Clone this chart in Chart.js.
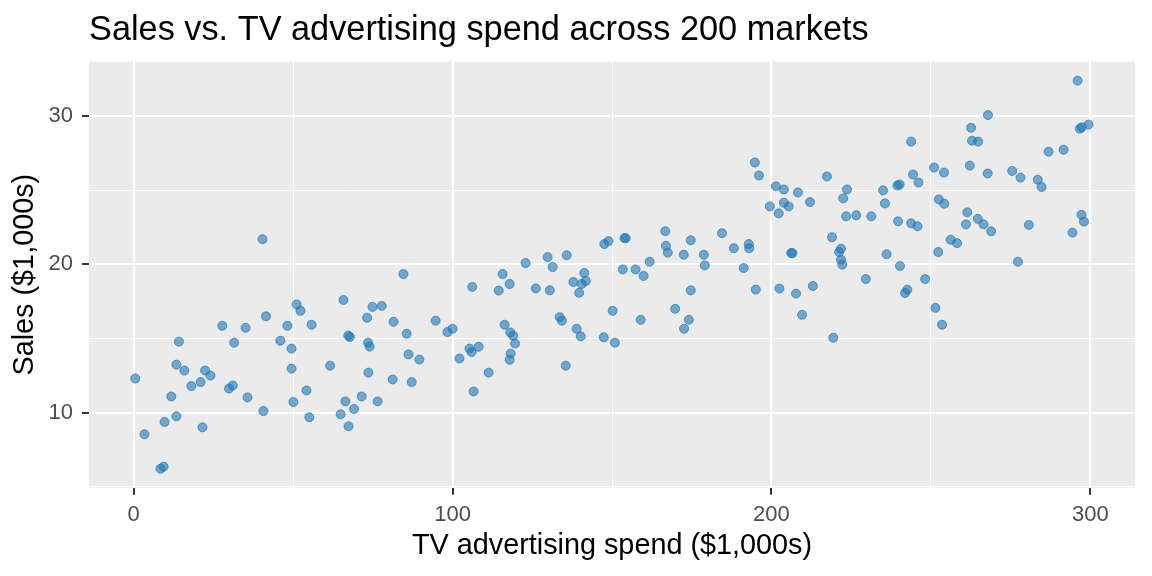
<!DOCTYPE html>
<html lang="en">
<head>
    <meta charset="UTF-8">
    <title>Sales vs. TV advertising spend</title>
    <style>
        html, body {
            margin: 0;
            padding: 0;
            background: #ffffff;
        }
        #wrap {
            width: 1152px;
            height: 576px;
        }
    </style>
    <script src="https://cdn.jsdelivr.net/npm/chart.js"></script>
</head>
<body>

<div id="wrap"><canvas id="chart"></canvas></div>

<script>
    // TV spend ($1,000s) and sales ($1,000s), one entry per market
    const tvSpend = [
        40.4, 41.5, 27.8, 35.1, 14.2, 31.5, 13.4, 15.9, 0.5, 22.4,
        24.1, 18.1, 21.0, 29.9, 31.1, 11.8, 35.7, 40.7, 13.4, 9.7,
        21.6, 3.4, 8.4, 9.4, 84.6, 65.8, 51.1, 52.3, 74.9, 77.8,
        48.2, 55.8, 73.2, 81.5, 94.7, 85.6, 46.0, 49.5, 67.3, 67.8,
        73.5, 74.0, 86.2, 89.6, 49.5, 61.6, 73.6, 81.2, 87.2, 54.2,
        50.1, 66.4, 71.5, 76.5, 69.1, 64.9, 55.1, 67.4, 98.4, 100.0,
        106.2, 115.7, 114.5, 117.9, 122.9, 129.8, 131.4, 135.8, 126.1, 130.5,
        137.9, 141.3, 140.5, 141.8, 139.7, 147.6, 148.9, 150.2, 116.3, 118.1,
        119.0, 119.6, 118.2, 117.9, 133.6, 134.3, 138.9, 140.2, 147.4, 105.3,
        106.0, 108.2, 102.2, 111.3, 135.5, 106.6, 199.5, 202.3, 153.9, 154.3,
        166.7, 174.7, 184.5, 166.9, 167.5, 172.5, 178.8, 179.1, 188.2, 192.9,
        193.0, 191.3, 161.8, 153.4, 157.4, 159.9, 195.1, 202.5, 174.7, 169.8,
        159.0, 174.1, 172.6, 150.9, 194.8, 196.1, 217.4, 201.4, 203.9, 208.3,
        223.7, 235.0, 222.5, 235.6, 203.9, 205.4, 212.1, 223.4, 226.6, 231.3,
        219.0, 206.2, 206.6, 221.8, 221.2, 221.8, 222.2, 236.1, 207.7, 213.0,
        229.6, 209.6, 219.4, 262.6, 262.9, 264.8, 243.8, 251.0, 254.1, 244.4,
        246.1, 239.5, 240.2, 262.2, 267.8, 275.5, 252.5, 254.2, 261.4, 261.0,
        264.7, 266.5, 268.9, 239.7, 243.8, 245.8, 256.2, 258.2, 252.3, 240.3,
        248.2, 242.6, 241.9, 251.4, 253.5, 296.0, 296.7, 297.3, 299.4, 286.9,
        291.6, 278.1, 283.5, 284.7, 297.2, 298.0, 294.4, 280.7, 277.3, 267.9
    ];
    const sales = [
        21.70, 16.50, 15.86, 15.72, 14.79, 14.72, 13.24, 12.84, 12.30, 12.84,
        12.50, 11.79, 12.06, 11.63, 11.83, 11.09, 11.03, 10.11, 9.75, 9.37,
        9.01, 8.54, 6.22, 6.36, 19.35, 17.60, 17.30, 16.87, 17.13, 17.20,
        15.86, 15.93, 16.40, 16.13, 16.20, 15.32, 14.85, 14.32, 15.20, 15.10,
        14.72, 14.45, 13.93, 13.58, 12.97, 13.17, 12.70, 12.24, 12.06, 11.50,
        10.72, 10.76, 11.09, 10.76, 10.25, 9.89, 9.69, 9.08, 15.44, 15.66,
        18.48, 19.35, 18.23, 18.68, 20.09, 20.49, 19.82, 20.62, 18.38, 18.25,
        18.81, 19.42, 18.68, 18.88, 18.08, 21.37, 21.57, 16.87, 15.93, 15.41,
        15.19, 14.66, 13.98, 13.56, 16.44, 16.20, 15.66, 15.15, 15.08, 14.32,
        14.09, 14.45, 13.65, 12.70, 13.17, 11.43, 23.91, 23.44, 21.77, 21.77,
        22.24, 21.63, 22.10, 21.25, 20.79, 20.65, 20.65, 19.93, 21.09, 21.37,
        21.09, 19.75, 20.18, 19.66, 19.66, 19.22, 18.30, 18.37, 18.25, 17.00,
        16.26, 16.26, 15.66, 14.72, 26.87, 25.99, 25.93, 25.26, 25.05, 24.85,
        25.05, 24.99, 24.45, 24.11, 24.16, 23.91, 24.20, 23.24, 23.31, 23.24,
        21.83, 20.76, 20.76, 21.05, 20.83, 20.31, 19.98, 20.69, 18.03, 18.54,
        19.01, 16.60, 15.05, 29.21, 28.34, 28.28, 28.28, 26.53, 26.19, 26.06,
        25.52, 25.32, 25.39, 26.66, 26.13, 26.30, 24.38, 24.09, 23.51, 22.70,
        23.07, 22.70, 22.23, 22.90, 22.77, 22.57, 21.66, 21.43, 20.83, 19.89,
        19.01, 18.30, 18.07, 17.07, 15.93, 32.39, 29.15, 29.24, 29.42, 27.60,
        27.73, 25.85, 25.71, 25.22, 23.35, 22.88, 22.14, 22.66, 20.18, 30.07
    ];

    const xBreaks = [0, 100, 200, 300];
    const yBreaks = [10, 20, 30];

    const points = tvSpend.map((x, i) => ({ x: x, y: sales[i] }));

    // grey panel behind the points, like ggplot's theme_gray
    const panelBackground = {
        id: 'panelBackground',
        beforeDraw(chart) {
            const { ctx, chartArea } = chart;
            ctx.save();
            ctx.fillStyle = '#EBEBEB';
            ctx.fillRect(chartArea.left, chartArea.top,
                chartArea.right - chartArea.left, chartArea.bottom - chartArea.top);
            ctx.restore();
        }
    };

    const isMajor = (v, list) => list.indexOf(v) !== -1;
    const fontFamily = 'Liberation Sans, Arial, sans-serif';

    new Chart(document.getElementById('chart'), {
        type: 'scatter',
        data: {
            datasets: [{
                data: points,
                pointRadius: 4.5,
                pointHoverRadius: 4.5,
                backgroundColor: 'rgba(31, 119, 180, 0.6)',
                borderColor: 'rgba(31, 119, 180, 0.7)',
                borderWidth: 1
            }]
        },
        options: {
            responsive: true,
            maintainAspectRatio: false,
            animation: false,
            layout: {
                padding: { left: 0, right: 17, top: 0, bottom: 0 }
            },
            plugins: {
                legend: { display: false },
                tooltip: { enabled: false },
                title: {
                    display: true,
                    text: 'Sales vs. TV advertising spend across 200 markets',
                    align: 'start',
                    fullSize: false,
                    color: '#000000',
                    font: { family: fontFamily, size: 34.3, weight: 'normal' },
                    padding: { top: 9.5, bottom: 11 }
                }
            },
            scales: {
                x: {
                    type: 'linear',
                    min: -14,
                    max: 314,
                    afterFit(scale) { scale.height = 88.3; },
                    border: { display: false },
                    grid: {
                        color: '#FFFFFF',
                        lineWidth: ctx => isMajor(ctx.tick.value, xBreaks) ? 2 : 1,
                        tickColor: ctx => isMajor(ctx.tick.value, xBreaks) ? '#333333' : 'rgba(0,0,0,0)',
                        tickWidth: 2,
                        tickLength: 7
                    },
                    ticks: {
                        stepSize: 50,
                        includeBounds: false,
                        autoSkip: false,
                        maxRotation: 0,
                        padding: 7,
                        color: '#4D4D4D',
                        font: { family: fontFamily, size: 22 },
                        callback: v => isMajor(v, xBreaks) ? String(v) : ''
                    },
                    title: {
                        display: true,
                        text: 'TV advertising spend ($1,000s)',
                        color: '#000000',
                        font: { family: fontFamily, size: 28.8 },
                        padding: { top: 13, bottom: 13 }
                    }
                },
                y: {
                    type: 'linear',
                    min: 4.94,
                    max: 33.67,
                    afterFit(scale) { scale.width = 89; },
                    border: { display: false },
                    grid: {
                        color: '#FFFFFF',
                        lineWidth: ctx => isMajor(ctx.tick.value, yBreaks) ? 2 : 1,
                        tickColor: ctx => isMajor(ctx.tick.value, yBreaks) ? '#333333' : 'rgba(0,0,0,0)',
                        tickWidth: 2,
                        tickLength: 7
                    },
                    ticks: {
                        stepSize: 5,
                        includeBounds: false,
                        autoSkip: false,
                        padding: 9,
                        color: '#4D4D4D',
                        font: { family: fontFamily, size: 22 },
                        callback: v => isMajor(v, yBreaks) ? String(v) : ''
                    },
                    title: {
                        display: true,
                        text: 'Sales ($1,000s)',
                        color: '#000000',
                        font: { family: fontFamily, size: 28.8 },
                        padding: { top: 8, bottom: 8 }
                    }
                }
            }
        },
        plugins: [panelBackground]
    });
</script>

</body>
</html>
